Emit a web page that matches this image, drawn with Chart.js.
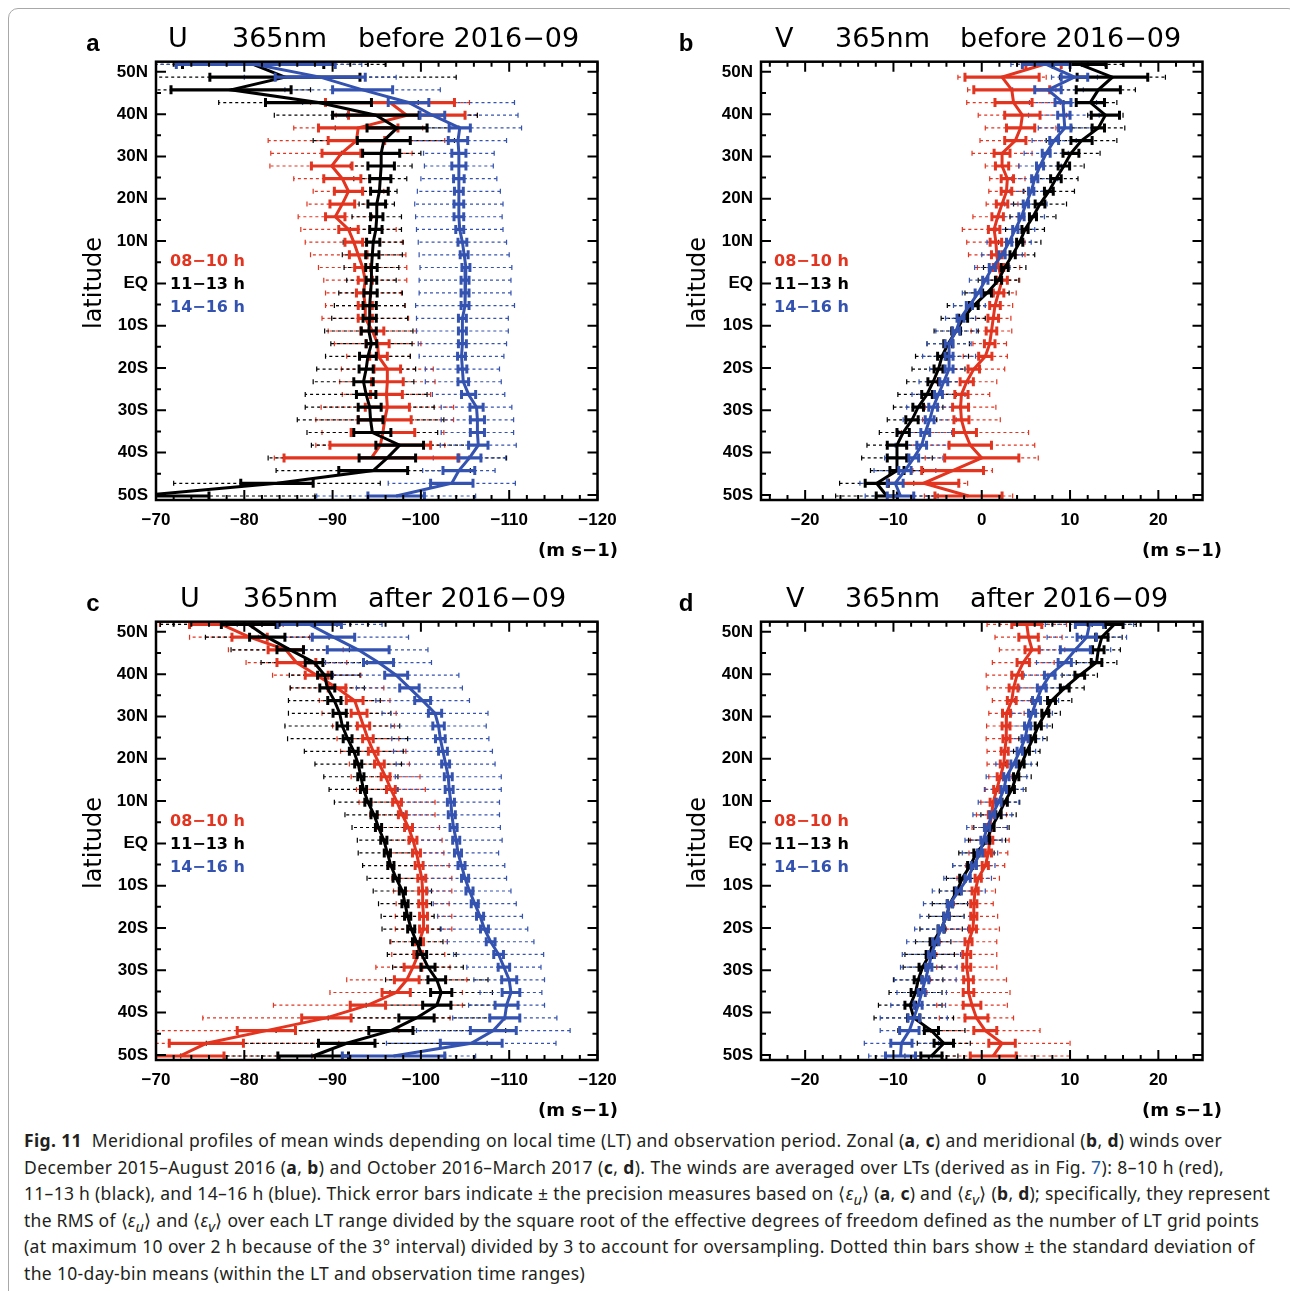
<!DOCTYPE html>
<html>
<head>
<meta charset="utf-8">
<script src="https://cdn.jsdelivr.net/npm/chart.js@4.4.1/dist/chart.umd.min.js"></script>
<style>
html, body { margin: 0; padding: 0; background: #fff; }
body { width: 1290px; height: 1291px; position: relative; overflow: hidden; }
#border { position: absolute; left: 8px; top: 8px; width: 1290px; height: 1320px; border: 1px solid #a8a8a8; border-radius: 10px; box-sizing: border-box; }
canvas { position: absolute; }
.t { position: absolute; white-space: pre; line-height: 1; }
.letter { font: bold 24px 'Liberation Sans', sans-serif; }
.title { font: 27px 'DejaVu Sans', sans-serif; }
.lat { font: 24px 'DejaVu Sans', sans-serif; }
.leg { font: bold 16px 'DejaVu Sans', sans-serif; }
.unit { font: bold 18px 'DejaVu Sans', sans-serif; }
#cap { position: absolute; left: 24px; top: 1127px; font: 17.5px 'Noto Sans', sans-serif; color: #231f20; }
#cap div { white-space: nowrap; line-height: 26.6px; height: 26.6px; }
#cap span.line { display: inline-block; }
#cap .lk { color: #1f5fa8; }
</style>
</head>
<body>
<div id="border"></div>
<canvas id="pa" width="570" height="500" style="left:60px;top:50px"></canvas>
<canvas id="pb" width="570" height="500" style="left:665px;top:50px"></canvas>
<canvas id="pc" width="570" height="500" style="left:60px;top:610px"></canvas>
<canvas id="pd" width="570" height="500" style="left:665px;top:610px"></canvas>
<div id="cap">
<div><span class="line"><b>Fig. 11</b>&nbsp; Meridional profiles of mean winds depending on local time (LT) and observation period. Zonal (<b>a</b>, <b>c</b>) and meridional (<b>b</b>, <b>d</b>) winds over</span></div>
<div><span class="line">December 2015–August 2016 (<b>a</b>, <b>b</b>) and October 2016–March 2017 (<b>c</b>, <b>d</b>). The winds are averaged over LTs (derived as in Fig. <span class="lk">7</span>): 8–10 h (red),</span></div>
<div><span class="line">11–13 h (black), and 14–16 h (blue). Thick error bars indicate ± the precision measures based on ⟨<i>ε<sub>u</sub></i>⟩ (<b>a</b>, <b>c</b>) and ⟨<i>ε<sub>v</sub></i>⟩ (<b>b</b>, <b>d</b>); specifically, they represent</span></div>
<div><span class="line">the RMS of ⟨<i>ε<sub>u</sub></i>⟩ and ⟨<i>ε<sub>v</sub></i>⟩ over each LT range divided by the square root of the effective degrees of freedom defined as the number of LT grid points</span></div>
<div><span class="line">(at maximum 10 over 2 h because of the 3° interval) divided by 3 to account for oversampling. Dotted thin bars show ± the standard deviation of</span></div>
<div><span class="line">the 10-day-bin means (within the LT and observation time ranges)</span></div>
</div>
<script>
// latitude bins (north to south) and axis labels
const LATS = [51.75, 48.75, 45.75, 42.75, 39.75, 36.75, 33.75, 30.75, 27.75, 24.75, 21.75, 18.75, 15.75, 12.75, 9.75, 6.75, 3.75, 0.75,
  -2.25, -5.25, -8.25, -11.25, -14.25, -17.25, -20.25, -23.25, -26.25, -29.25, -32.25, -35.25, -38.25, -41.25, -44.25, -47.25, -50.25];
const LAT_TICKS = [50, 40, 30, 20, 10, 0, -10, -20, -30, -40, -50];
const U_TICKS = [-70, -80, -90, -100, -110, -120];
const V_TICKS = [-20, -10, 0, 10, 20];

// (a) U before 2016-09
const U_BEF_08 = [null, null, null, -96.5, -98.4, -92.9, -92.7, -91.0, -89.9, -91.1, -91.8, -91.1, -90.3, -91.8, -92.4, -92.9, -93.4, -93.7,
  -93.5, -93.7, -93.7, -94.5, -95.1, -95.2, -96.2, -96.2, -96.1, -96.2, -95.9, -95.7, -95.4, -94.4, null, null, null];
const U_BEF_08_PREC = [null, null, null, 7.3, 6.6, 4.5, 3.2, 2.2, 2.3, 2.1, 1.6, 1.4, 1.1, 1.1, 1.0, 1.0, 0.9, 0.8,
  0.8, 0.8, 0.8, 1.3, 1.3, 1.0, 1.5, 1.8, 1.8, 2.5, 3.0, 3.6, 5.7, 9.9, null, null, null];
const U_BEF_08_SD = [null, null, null, 9, 8, 7.3, 10, 8, 7, 5.5, 4, 4, 4.2, 5.4, 5.5, 5.4, 5, 4.7,
  4.3, 4.5, 4.9, 5, 4.9, 3.6, 5.2, 5.4, 5, 7.5, 7.8, 6.9, 7.3, 11, null, null, null];
const U_BEF_11 = [-81.0, -84.6, -78.5, -88.4, -94.9, -97.3, -95.8, -95.5, -95.5, -95.4, -95.3, -95.0, -95.0, -94.9, -94.6, -94.5, -94.4, -94.4,
  -94.3, -94.2, -94.2, -94.1, -94.4, -94.0, -93.8, -93.5, -93.8, -94.2, -94.3, -94.5, -97.6, -96.2, -94.6, -83.7, -68.0];
const U_BEF_11_PREC = [8, 8.5, 6.8, 6.0, 4.9, 3.4, 3.0, 2.1, 1.5, 1.2, 1.0, 1.0, 0.7, 0.7, 0.75, 0.75, 0.65, 0.6,
  0.75, 0.75, 0.75, 0.85, 0.6, 0.95, 0.8, 1.1, 1.1, 1.3, 1.4, 2.1, 2.7, 3.2, 3.9, 4.1, 8];
const U_BEF_11_SD = [15, 19.4, 9, 11.3, 11.5, 7, 8, 4.5, 3.5, 3, 2, 2, 2.8, 2.9, 3.4, 3.4, 3.1, 2.8,
  3.6, 4, 4.3, 5, 4.6, 4.8, 5.6, 5.7, 6.9, 7.3, 8.3, 7.4, 10, 13.5, 11, 11.7, 20];
const U_BEF_14 = [-81.3, -88.6, -93.4, -98.6, -101.3, -104.4, -104.2, -104.3, -104.3, -104.3, -104.3, -104.3, -104.3, -104.4, -104.7, -104.9, -105.1, -105.0,
  -105.0, -105.0, -104.7, -104.7, -104.7, -104.6, -104.7, -104.8, -105.4, -106.3, -106.4, -106.4, -106.5, -105.5, -104.3, -103.5, -97.2];
const U_BEF_14_PREC = [9, 5.1, 3.4, 2.3, 1.4, 1.2, 1.1, 0.8, 0.8, 0.6, 0.5, 0.55, 0.55, 0.45, 0.5, 0.45, 0.45, 0.45,
  0.45, 0.45, 0.45, 0.45, 0.45, 0.45, 0.5, 0.6, 0.8, 0.75, 0.8, 0.8, 1.1, 1.3, 1.8, 2.4, 3.2];
const U_BEF_14_SD = [12, 8.6, 8.8, 12, 9.7, 7, 5.5, 4, 3.9, 4.3, 4.7, 5, 4.9, 4.9, 5, 5.1, 5.2, 5.2,
  5.2, 5.6, 5.2, 5.2, 5, 4.8, 4.2, 4.3, 4.1, 4, 4.1, 4.1, 4.3, 4.1, 4.1, 7.2, 9];

// (b) V before 2016-09
const V_BEF_08 = [7.0, 2.3, 3.4, 3.6, 4.6, 4.4, 3.8, 2.3, 2.3, 2.9, 2.8, 2.3, 1.8, 1.4, 1.6, 1.7, 1.9, 2.3,
  1.9, 1.5, 1.3, 1.1, 0.9, 0.4, -0.9, -1.7, -2.3, -2.4, -2.3, -1.9, -1.3, 0.0, -3.3, -6.6, -1.5];
const V_BEF_08_PREC = [2, 4.2, 4.3, 2.1, 2.0, 1.6, 1.2, 0.9, 0.75, 0.7, 0.6, 0.65, 0.65, 0.65, 0.65, 0.6, 0.6, 0.6,
  0.6, 0.6, 0.6, 0.6, 0.6, 0.75, 0.65, 0.75, 0.75, 0.9, 0.85, 1.3, 2.4, 4.2, 3.5, 4, 3.8];
const V_BEF_08_SD = [3, 5, 5, 5.3, 5, 4, 4, 3.4, 1.9, 2, 2, 1.8, 2.8, 3.6, 3.3, 3.2, 2.4, 2,
  2, 2, 2, 2.3, 1.9, 2.5, 3.5, 3.4, 3.2, 4, 4.4, 7.2, 7.3, 6.4, 4.5, 5, 5];
const V_BEF_11 = [11.1, 14.8, 13.2, 12.3, 14.0, 13.2, 11.3, 10.1, 9.3, 8.4, 7.6, 6.6, 5.8, 4.9, 4.3, 3.5, 2.6, 1.9,
  0.6, -0.9, -2.1, -2.9, -3.8, -4.5, -4.9, -5.5, -6.2, -7.2, -7.9, -8.9, -9.6, -9.6, -9.6, -11.9, -10.75];
const V_BEF_11_PREC = [3, 4, 2.5, 1.6, 1.6, 0.7, 1.2, 0.9, 0.65, 0.6, 0.5, 0.55, 0.4, 0.35, 0.35, 0.3, 0.4, 0.35,
  0.5, 0.5, 0.5, 0.5, 0.5, 0.5, 0.5, 0.6, 0.6, 0.6, 0.7, 0.7, 1.1, 1.1, 0.8, 1.3, 1.2];
const V_BEF_11_SD = [5, 6, 4.2, 3, 2, 3, 4, 3.3, 2.3, 2.5, 2.9, 3, 2.6, 2.2, 2.4, 2.5, 2.4, 2.3,
  2.5, 3, 2.5, 2.5, 2.4, 3, 3, 3, 3.3, 2.8, 2.8, 2.7, 3.4, 4, 3, 4.2, 5.8];
const V_BEF_14 = [7.3, 10.5, 7.5, 9.2, 9.3, 9.4, 8.2, 7.3, 6.6, 6.0, 5.6, 5.0, 4.5, 3.8, 3.1, 2.3, 1.2, 0.4,
  -0.4, -1.4, -2.4, -2.9, -3.7, -3.7, -3.7, -4.3, -4.9, -5.5, -5.9, -6.4, -6.8, -7.7, -8.7, -9.8, -9.2];
const V_BEF_14_PREC = [2.7, 1.5, 1.5, 0.9, 0.7, 0.7, 0.5, 0.45, 0.4, 0.35, 0.3, 0.3, 0.3, 0.3, 0.3, 0.35, 0.35, 0.3,
  0.35, 0.35, 0.4, 0.4, 0.45, 0.45, 0.45, 0.45, 0.45, 0.5, 0.5, 0.5, 0.55, 0.55, 0.7, 0.9, 1.5];
const V_BEF_14_SD = [4, 2.6, 4, 3.8, 4, 3, 2.5, 2.5, 2.4, 2.6, 2.4, 2.4, 2.6, 2.2, 2.5, 2.3, 2, 1.8,
  1.8, 1.8, 1.7, 2.3, 2.5, 3, 2.2, 2.8, 3, 3, 3, 3, 3, 3.3, 3.5, 4, 4];

// (c) U after 2016-09
const U_AFT_08 = [-77.4, -80.6, -84.7, -85.9, -88.2, -90.5, -92.5, -93.0, -93.5, -94.0, -94.6, -95.3, -96.0, -96.6, -97.3, -97.9, -98.6, -99.1,
  -99.5, -99.8, -100.1, -100.2, -100.2, -100.3, -100.3, -99.8, -99.7, -99.1, -98.4, -97.2, -94.0, -89.3, -82.5, -75.7, -72.7];
const U_AFT_08_PREC = [3.6, 2, 2, 2.2, 1.3, 1.0, 0.95, 0.9, 0.7, 0.6, 0.55, 0.55, 0.5, 0.5, 0.5, 0.45, 0.45, 0.45,
  0.45, 0.45, 0.45, 0.45, 0.45, 0.45, 0.45, 0.5, 0.5, 1.0, 1.4, 1.6, 2, 2.8, 3.3, 4.2, 5];
const U_AFT_08_SD = [7, 6.8, 6.5, 5.7, 5, 5.3, 4, 4.2, 3.5, 3.5, 3.7, 3.4, 3.9, 3.9, 4.3, 3.7, 3.5, 3.3,
  3.1, 3.4, 3.4, 3.3, 3, 3.2, 3.2, 3.2, 3, 4.2, 6.8, 7.5, 10.7, 14, 15, 15, 15];
const U_AFT_11 = [-80.5, -82.6, -85.2, -87.9, -89.1, -89.4, -90.2, -90.8, -91.1, -91.7, -92.4, -92.9, -93.2, -93.5, -94.0, -94.7, -95.2, -95.8,
  -96.2, -96.6, -97.2, -97.9, -98.2, -98.5, -98.9, -99.5, -100.1, -100.8, -101.8, -102.3, -101.8, -99.5, -96.6, -91.6, -87.8];
const U_AFT_11_PREC = [3.1, 2, 1.5, 1.0, 0.8, 0.85, 0.75, 0.75, 0.6, 0.5, 0.5, 0.4, 0.35, 0.35, 0.35, 0.35, 0.35, 0.35,
  0.35, 0.35, 0.35, 0.35, 0.35, 0.35, 0.4, 0.45, 0.55, 0.8, 1.0, 1.2, 1.6, 2.0, 2.5, 3.2, 4];
const U_AFT_11_SD = [10, 7, 6.7, 6, 4, 4.2, 5.2, 5.8, 6.5, 6.8, 5.6, 4.9, 4.2, 3.9, 3.8, 3.3, 3, 3,
  3.3, 3.2, 3.3, 3.3, 3, 3, 3.3, 3, 3.9, 4, 5.8, 5.8, 8, 10, 13, 15.9, 15];
const U_AFT_14 = [-87.4, -90.1, -92.9, -95.2, -97.2, -98.7, -100.2, -101.6, -102.0, -102.2, -102.5, -102.8, -103.1, -103.2, -103.4, -103.5, -103.7, -104.0,
  -104.2, -104.6, -105.0, -105.5, -106.1, -106.7, -107.2, -107.9, -108.8, -109.4, -110.0, -110.2, -109.7, -109.5, -108.2, -105.7, -96.9];
const U_AFT_14_PREC = [3.6, 2.4, 3.5, 1.7, 1.3, 1.1, 0.9, 0.75, 0.65, 0.55, 0.5, 0.45, 0.45, 0.45, 0.4, 0.4, 0.4, 0.4,
  0.4, 0.4, 0.4, 0.4, 0.4, 0.4, 0.45, 0.5, 0.55, 0.65, 0.85, 1.0, 1.3, 1.7, 2.6, 3.5, 5.8];
const U_AFT_14_SD = [8.2, 8.5, 7.9, 6, 7.1, 6, 5.3, 6, 5.4, 5.5, 5.6, 5.6, 6, 5.9, 5.5, 5.4, 5.3, 5.2,
  4.6, 4.9, 4.7, 4.7, 4.7, 4.8, 4.9, 4.9, 5.1, 4.2, 4, 3.5, 4.3, 5.9, 8.7, 9.6, 9.3];

// (d) V after 2016-09
const V_AFT_08 = [5.1, 5.3, 5.7, 4.7, 4.0, 3.6, 3.4, 2.8, 2.75, 2.8, 2.6, 2.5, 2.1, 1.7, 1.3, 1.1, 0.9, 0.9,
  0.75, 0.4, -0.4, -0.75, -0.9, -0.9, -1.0, -1.5, -1.7, -1.7, -1.5, -1.5, -1.1, -0.6, 0.4, 2.3, 1.3];
const V_AFT_08_PREC = [1.7, 1.1, 0.8, 0.7, 0.6, 0.5, 0.5, 0.45, 0.45, 0.4, 0.4, 0.4, 0.35, 0.35, 0.35, 0.35, 0.35, 0.35,
  0.35, 0.35, 0.35, 0.35, 0.35, 0.35, 0.4, 0.4, 0.45, 0.45, 0.55, 0.6, 1.0, 1.3, 1.3, 1.5, 2.6];
const V_AFT_08_SD = [4.5, 3.8, 3.7, 3.5, 3.5, 3, 2.2, 2, 2.2, 2.3, 2, 1.9, 1.3, 1.3, 1.4, 1.7, 2, 2.2,
  2.2, 2.2, 2.4, 2.3, 2.2, 2.7, 3, 3.2, 3.4, 3.4, 4.3, 4.7, 4, 4.2, 6.2, 7.7, 8.7];
const V_AFT_11 = [15.0, 13.6, 13.2, 13.0, 11.1, 9.4, 7.9, 7.2, 6.4, 5.8, 5.1, 4.5, 3.9, 3.4, 2.6, 1.9, 1.1, 0.6,
  -0.6, -1.3, -2.2, -2.8, -3.6, -4.0, -4.6, -5.5, -5.9, -6.7, -7.2, -7.5, -8.1, -7.7, -5.7, -4.3, -5.7];
const V_AFT_11_PREC = [1, 0.7, 0.65, 0.6, 0.55, 0.5, 0.45, 0.4, 0.35, 0.3, 0.3, 0.3, 0.3, 0.3, 0.3, 0.3, 0.3, 0.3,
  0.3, 0.3, 0.3, 0.3, 0.3, 0.3, 0.35, 0.35, 0.4, 0.4, 0.45, 0.5, 0.6, 0.7, 0.8, 1.1, 1.2];
const V_AFT_11_SD = [2.5, 2.3, 2.5, 2.3, 2, 2.2, 2.3, 1.7, 1.6, 1.6, 1.5, 1.8, 1.7, 1.6, 1.7, 2, 2, 2.1,
  2, 2, 1.8, 2, 2, 2, 2.4, 2, 2.8, 2.2, 2.8, 3, 3.6, 4.5, 3.8, 3, 3];
const V_AFT_14 = [12.2, 11.9, 10.6, 9.4, 7.7, 6.8, 6.2, 5.7, 5.2, 4.9, 4.3, 3.6, 2.8, 2.5, 1.9, 1.2, 0.6, 0.2,
  -0.2, -0.9, -1.6, -2.6, -3.6, -4.0, -4.6, -5.2, -5.7, -6.0, -6.4, -6.8, -7.2, -7.7, -8.2, -9.1, -9.2];
const V_AFT_14_PREC = [1.6, 1.1, 1.7, 0.75, 0.6, 0.5, 0.45, 0.4, 0.35, 0.35, 0.3, 0.3, 0.3, 0.3, 0.3, 0.3, 0.3, 0.3,
  0.3, 0.3, 0.3, 0.3, 0.3, 0.3, 0.3, 0.35, 0.35, 0.35, 0.4, 0.4, 0.45, 0.65, 1.1, 1.2, 1.7];
const V_AFT_14_SD = [5, 4.5, 4, 3.2, 2.9, 2.5, 2.5, 2.3, 2.2, 2, 1.8, 2, 2.3, 2.2, 2.3, 2.2, 2.3, 2.1,
  2, 2.4, 2.7, 3, 3, 3, 3, 3.3, 3.3, 3.2, 3.5, 2.8, 3.1, 3.8, 3.3, 4.2, 3.6];

const RED = '#e2341f', BLACK = '#000000', BLUE = '#3453b0';
const MINUS = '\u2212';

function fmtLat(v){ return v > 0 ? v + 'N' : v < 0 ? (-v) + 'S' : 'EQ'; }
function fmtNum(v){ return v < 0 ? MINUS + Math.abs(v) : String(v); }

function profile(mean){
  const pts = [];
  LATS.forEach((lat, i) => { if (mean[i] !== null) pts.push({ x: mean[i], y: lat }); });
  return pts;
}
function bars(mean, err){
  const pts = [];
  LATS.forEach((lat, i) => {
    if (mean[i] === null) return;
    pts.push({ x: mean[i] - err[i], y: lat }, { x: mean[i] + err[i], y: lat }, { x: null, y: null });
  });
  return pts;
}

// inward ticks on all four sides + heavy frame
const frameTicks = {
  id: 'frameTicks',
  afterDatasetsDraw(chart){
    const { ctx, chartArea: a, scales: { x, y } } = chart;
    ctx.save();
    ctx.strokeStyle = '#000';
    ctx.lineWidth = 2;
    ctx.beginPath();
    for (let v = Math.ceil(x.min / 2) * 2; v <= x.max; v += 2){
      const px = x.getPixelForValue(v);
      const len = v % 10 === 0 ? 10 : 5;
      ctx.moveTo(px, a.bottom); ctx.lineTo(px, a.bottom - len);
      ctx.moveTo(px, a.top); ctx.lineTo(px, a.top + len);
    }
    for (let v = -50; v <= 50; v += 5){
      const py = y.getPixelForValue(v);
      const len = v % 10 === 0 ? 10 : 5;
      ctx.moveTo(a.left, py); ctx.lineTo(a.left + len, py);
      ctx.moveTo(a.right, py); ctx.lineTo(a.right - len, py);
    }
    ctx.stroke();
    ctx.lineWidth = 2.5;
    ctx.strokeRect(a.left, a.top, a.right - a.left, a.bottom - a.top);
    ctx.restore();
  }
};

function seriesSets(list){
  // list: [{mean, prec, sd, color}] in drawing order bottom -> top
  const sets = [];
  let order = 100;
  list.forEach(s => {
    sets.push({
      data: bars(s.mean, s.sd), showLine: true, borderColor: s.color, borderWidth: 1.2,
      borderDash: [3, 3], pointStyle: 'line', rotation: 90, pointRadius: 2.5,
      pointBorderWidth: 1.2, pointBorderColor: s.color, clip: 0, order: order--
    });
  });
  list.forEach(s => {
    sets.push({
      data: bars(s.mean, s.prec), showLine: true, borderColor: s.color, borderWidth: 3.2,
      pointStyle: 'line', rotation: 90, pointRadius: 4.5,
      pointBorderWidth: 3, pointBorderColor: s.color, clip: 0, order: order--
    });
    sets.push({
      data: profile(s.mean), showLine: true, borderColor: s.color, borderWidth: 3,
      pointRadius: 0, tension: 0, clip: 0, order: order--
    });
  });
  return sets;
}

function makePanel(id, xMin, xMax, reverse, xTicks, list){
  return new Chart(document.getElementById(id), {
    type: 'scatter',
    data: { datasets: seriesSets(list) },
    options: {
      responsive: false, animation: false, events: [],
      layout: { padding: { top: 11.7, right: 32.5, left: 0, bottom: 0 } },
      plugins: { legend: { display: false }, tooltip: { enabled: false } },
      scales: {
        x: {
          type: 'linear', min: xMin, max: xMax, reverse,
          afterFit: s => { s.height = 50; s.paddingLeft = 0; s.paddingRight = 0; },
          afterBuildTicks: s => { s.ticks = xTicks.map(v => ({ value: v })); },
          grid: { display: false, drawTicks: false }, border: { display: false },
          ticks: { padding: 10, color: '#000', autoSkip: false, maxRotation: 0,
                   font: { family: 'Liberation Sans', weight: 'bold', size: 17 }, callback: v => fmtNum(v) }
        },
        y: {
          type: 'linear', min: -51.2, max: 52.4,
          afterFit: s => { s.width = 96; s.paddingTop = 0; s.paddingBottom = 0; },
          afterBuildTicks: s => { s.ticks = LAT_TICKS.map(v => ({ value: v })); },
          grid: { display: false, drawTicks: false }, border: { display: false },
          ticks: { padding: 8, color: '#000', autoSkip: false,
                   font: { family: 'Liberation Sans', weight: 'bold', size: 17 }, callback: v => fmtLat(v) }
        }
      }
    },
    plugins: [frameTicks]
  });
}

makePanel('pa', -120, -70, true, U_TICKS, [
  { mean: U_BEF_08, prec: U_BEF_08_PREC, sd: U_BEF_08_SD, color: RED },
  { mean: U_BEF_11, prec: U_BEF_11_PREC, sd: U_BEF_11_SD, color: BLACK },
  { mean: U_BEF_14, prec: U_BEF_14_PREC, sd: U_BEF_14_SD, color: BLUE }
]);
makePanel('pb', -25, 25, false, V_TICKS, [
  { mean: V_BEF_08, prec: V_BEF_08_PREC, sd: V_BEF_08_SD, color: RED },
  { mean: V_BEF_11, prec: V_BEF_11_PREC, sd: V_BEF_11_SD, color: BLACK },
  { mean: V_BEF_14, prec: V_BEF_14_PREC, sd: V_BEF_14_SD, color: BLUE }
]);
makePanel('pc', -120, -70, true, U_TICKS, [
  { mean: U_AFT_08, prec: U_AFT_08_PREC, sd: U_AFT_08_SD, color: RED },
  { mean: U_AFT_11, prec: U_AFT_11_PREC, sd: U_AFT_11_SD, color: BLACK },
  { mean: U_AFT_14, prec: U_AFT_14_PREC, sd: U_AFT_14_SD, color: BLUE }
]);
makePanel('pd', -25, 25, false, V_TICKS, [
  { mean: V_AFT_08, prec: V_AFT_08_PREC, sd: V_AFT_08_SD, color: RED },
  { mean: V_AFT_11, prec: V_AFT_11_PREC, sd: V_AFT_11_SD, color: BLACK },
  { mean: V_AFT_14, prec: V_AFT_14_PREC, sd: V_AFT_14_SD, color: BLUE }
]);

// text overlays
function addText(str, x, y, cls, opts = {}){
  const d = document.createElement('div');
  d.className = 't ' + cls;
  d.textContent = str;
  d.style.left = x + 'px';
  d.style.top = y + 'px';
  if (opts.color) d.style.color = opts.color;
  const tx = opts.align === 'left' ? '0' : '-50%';
  d.style.transform = `translate(${tx}, -50%)` + (opts.rotate ? ' rotate(-90deg)' : '');
  document.body.appendChild(d);
}

const PANELS = [
  { letter: 'a', lx: 93, comp: 'U', per: 'before 2016' + MINUS + '09', tx: [168, 232, 358], dx: 0, dy: 0 },
  { letter: 'b', lx: 686, comp: 'V', per: 'before 2016' + MINUS + '09', tx: [775, 835, 960], dx: 604, dy: 0 },
  { letter: 'c', lx: 93, comp: 'U', per: 'after 2016' + MINUS + '09', tx: [180, 243, 368], dx: 0, dy: 560 },
  { letter: 'd', lx: 686, comp: 'V', per: 'after 2016' + MINUS + '09', tx: [786, 845, 970], dx: 604, dy: 560 }
];
PANELS.forEach(p => {
  addText(p.letter, p.lx, 43 + p.dy, 'letter');
  addText(p.comp, p.tx[0], 37 + p.dy, 'title', { align: 'left' });
  addText('365nm', p.tx[1], 37 + p.dy, 'title', { align: 'left' });
  addText(p.per, p.tx[2], 37 + p.dy, 'title', { align: 'left' });
  addText('latitude', 93 + p.dx, 283 + p.dy, 'lat', { rotate: true });
  addText('08' + MINUS + '10 h', 170 + p.dx, 260 + p.dy, 'leg', { align: 'left', color: RED });
  addText('11' + MINUS + '13 h', 170 + p.dx, 283 + p.dy, 'leg', { align: 'left', color: BLACK });
  addText('14' + MINUS + '16 h', 170 + p.dx, 306 + p.dy, 'leg', { align: 'left', color: BLUE });
  addText('(m s' + MINUS + '1)', 578 + p.dx, 549 + p.dy, 'unit');
});

// stretch caption lines to the reference line ends
const LINE_ENDS = [1222, 1224, 1270, 1259, 1255, 585];
document.querySelectorAll('#cap span.line').forEach((el, i) => {
  const w = el.getBoundingClientRect().width;
  const n = el.textContent.length;
  const target = LINE_ENDS[i] - 24;
  el.style.letterSpacing = ((target - w) / n).toFixed(3) + 'px';
});
</script>
</body>
</html>
